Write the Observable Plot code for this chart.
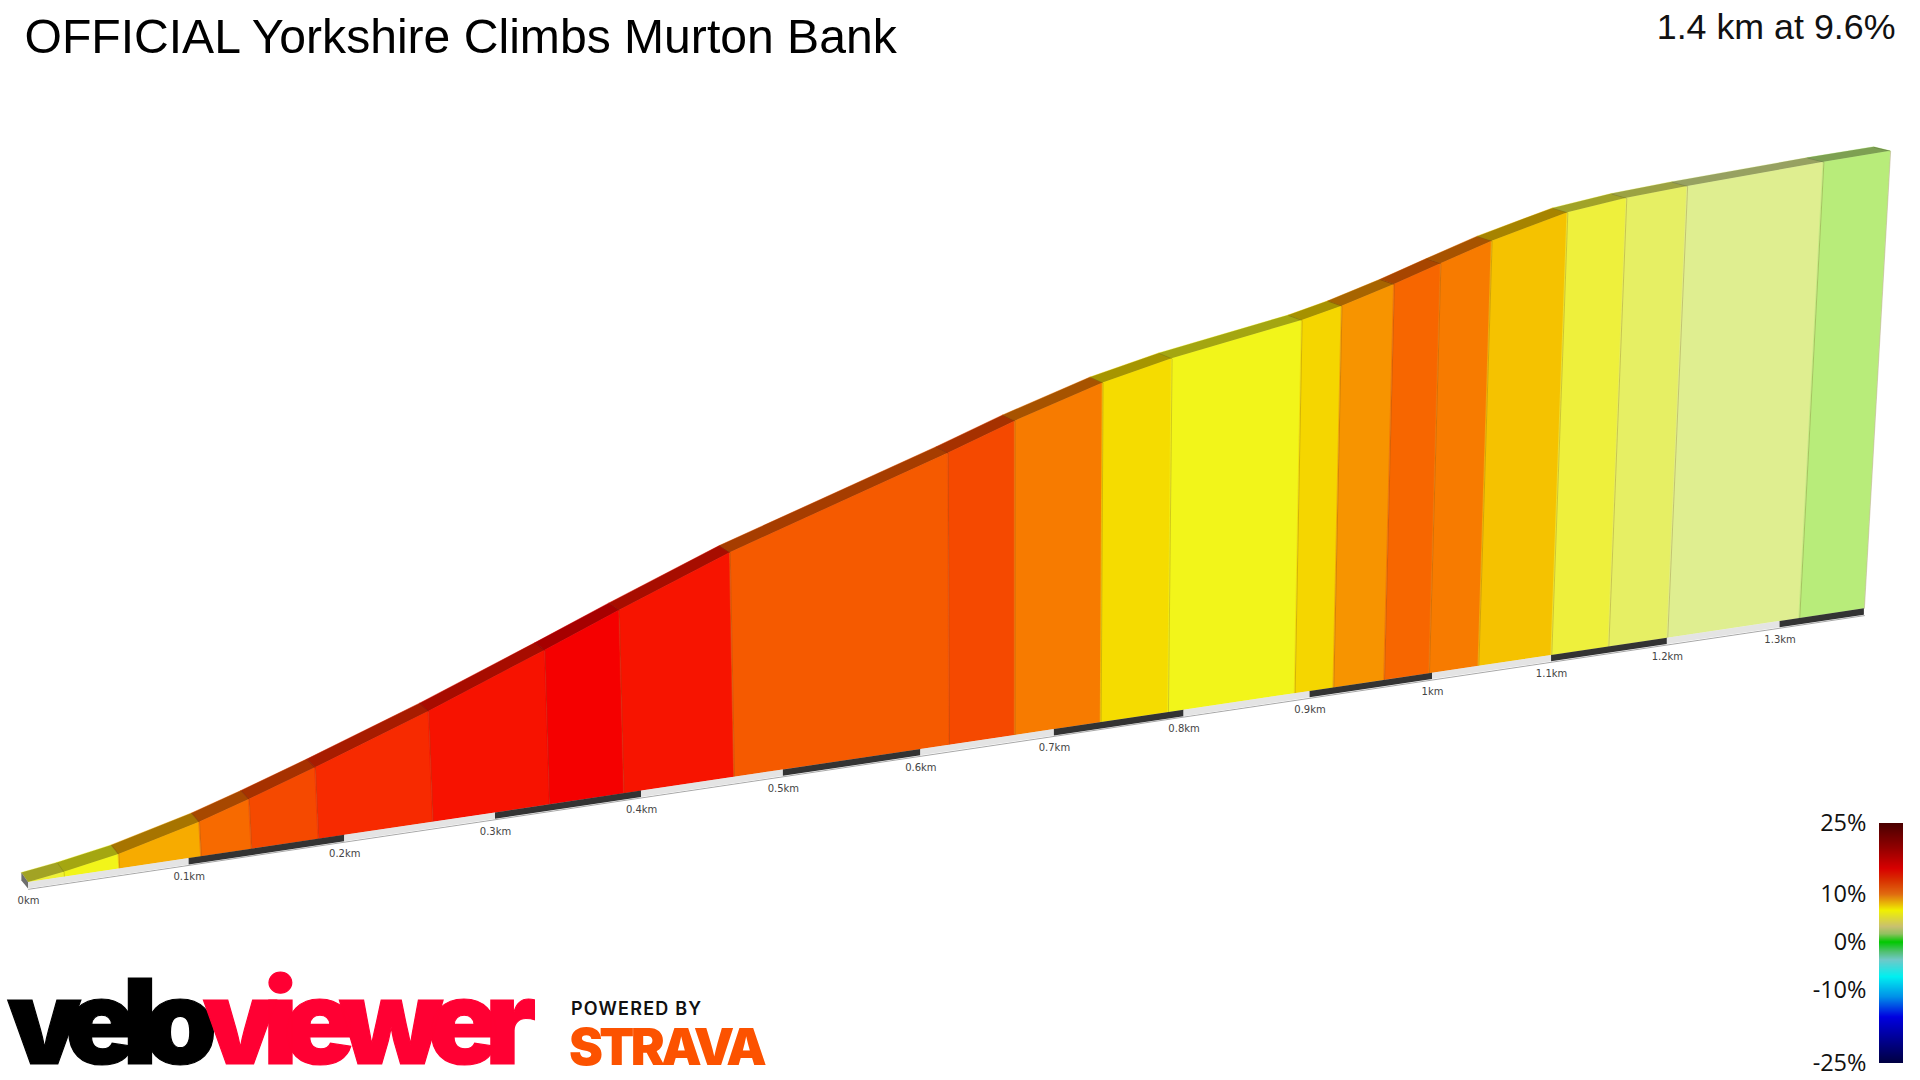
<!DOCTYPE html>
<html>
<head>
<meta charset="utf-8">
<script src="https://cdn.jsdelivr.net/npm/d3@7"></script>
<script src="https://cdn.jsdelivr.net/npm/@observablehq/plot@0.6"></script>
<style>
html,body{margin:0;padding:0;background:#fff;overflow:hidden}
#stage{position:relative;width:1920px;height:1080px;overflow:hidden}
#stage svg{display:block}
.t{position:absolute;white-space:nowrap;line-height:1;margin:0}
#title{left:24.5px;top:7.5px;font:48.1px "Liberation Sans",Arial,sans-serif;color:#000}
#summary{right:24.5px;top:6.5px;font:35.8px "Liberation Sans",Arial,sans-serif;color:#111}
#logo{left:7px;top:976px;height:90px;font:900 118px Inter,sans-serif;letter-spacing:-14.3px;color:#000;-webkit-text-stroke:1.2px currentColor}
#logo span{display:inline-block;height:90px;line-height:90px;overflow:visible;vertical-align:top}
#logo .r{color:#ff0033}
#powered{left:571px;top:998px;font:600 18px Inter,sans-serif;letter-spacing:1.2px;color:#111}
#strava{left:569px;top:1016px;font:900 51px Inter,sans-serif;color:#fc5200;letter-spacing:-3.6px}
#legend{position:absolute;left:1700px;top:780px}
</style>
</head>
<body>
<div id="stage">
<div id="chart"></div>
<div id="legend"></div>
<div class="t" id="title">OFFICIAL Yorkshire Climbs Murton Bank</div>
<div class="t" id="summary">1.4 km at 9.6%</div>
<div class="t" id="logo"><span>velo</span><span class="r">viewer</span></div>
<div class="t" id="powered">POWERED BY</div>
<div class="t" id="strava">STRAVA</div>
</div>
<script>
// ---- data ----
const boundaryKm   = [0,0.0221,0.0564,0.1078,0.1399,0.1831,0.2583,0.3368,0.3879,0.4652,0.6212,0.6703,0.7357,0.7878,0.888,0.9192,0.9605,0.9975,1.0386,1.1002,1.1491,1.2003,1.3177,1.3766];
const boundaryElev = [0,1.18,3.48,8.4,12.16,17.59,27.6,38.94,46.6,57.78,76.93,83.38,90.98,95.5,102.2,105,109.5,114,118.9,124.86,127.4,129.2,132.6,134];
const segmentGrade = [5.3,6.7,9.6,11.9,12.7,13.4,14.4,15,14.3,12.3,12.7,11.5,8,6.7,8.1,11,12,11.5,8.4,5,4,3,2.4];
const tickKm    = [0,0.1,0.2,0.3,0.4,0.5,0.6,0.7,0.8,0.9,1,1.1,1.2,1.3];
const tickLabel = ["0km","0.1km","0.2km","0.3km","0.4km","0.5km","0.6km","0.7km","0.8km","0.9km","1km","1.1km","1.2km","1.3km"];
const endKm = 1.3766;
const gradeStops  = [2.4,3,3.5,5,6.7,8,8.4,9.6,11,11.5,12,12.3,12.7,13.4,14.4,15];
const gradeColors = ["#b8ec7a","#dfee90","#e2ee78","#eef03c","#f2f51a","#f5dc00","#f5c200","#f7ab00","#f79400","#f77b00","#f76600","#f55a00","#f54900","#f72a00","#f71200","#f50000"];
const legendTicks  = [25,10,0,-10,-25];
const legendStops  = [-25,-15.5,-11.4,-7.2,-3.7,-2,0,1.7,3.2,6.6,10,12.9,15.4,20,25];
const legendColors = ["#000040","#0000e0","#0090e8","#00f0f0","#70c8c8","#50c070","#00c800","#90c060","#c8c070","#f0f000","#e06a10","#d83000","#d80000","#8f0000","#4a0000"];

// ---- oblique view of the road: km + metres to picture position ----
const baseX = d => 28 + 1632.7 * d / (1 + 0.1629 * d);
const baseY = d => 882 - 0.14907 * (baseX(d) - 28);
const rise  = (d, e) => e * 4.18 / (1 + 0.1629 * d);
const topX  = (d, e) => baseX(d) + rise(d, e) * (baseX(d) - 1015) * 6.76e-5;
const topY  = (d, e) => baseY(d) - rise(d, e);
const depthX = d => -6.6 - 9.9 * (baseX(d) - 28) / 1836;
const depthY = d => -4 - 5.5 * Math.pow(Math.max(0, 1 - (baseX(d) - 28) / 1836), 1.45);
const stripH = 6.4;

const corners = boundaryKm.map((km, i) => {
  const e = boundaryElev[i];
  return {km, e, bx: baseX(km), by: baseY(km), tx: topX(km, e), ty: topY(km, e),
          rx: topX(km, e) + depthX(km), ry: topY(km, e) + depthY(km)};
});
const faces = segmentGrade.flatMap((grade, i) => [
  {seg: i, grade, ...corners[i]}, {seg: i, grade, ...corners[i + 1]}
]);
const stripEnds = [...tickKm, endKm];
const strip = tickKm.flatMap((km, i) => {
  const shade = i % 2 ? "#333333" : "#e4e4e4";
  return [km, stripEnds[i + 1]].map(d => ({seg: i, shade, x: baseX(d), y1: baseY(d), y2: baseY(d) + stripH}));
});
const startCap = [
  {x: corners[0].rx, y1: corners[0].ry, y2: corners[0].ry + 8},
  {x: corners[0].tx, y1: corners[0].ty, y2: corners[0].ty + stripH}
];
const labels = tickKm.map((km, i) => ({x: baseX(km), y: baseY(km) + 18.7, text: tickLabel[i]}));

document.getElementById("chart").append(Plot.plot({
  width: 1920, height: 1080, margin: 0,
  style: {background: "transparent"},
  x: {domain: [0, 1920], range: [0, 1920], axis: null},
  y: {domain: [0, 1080], range: [0, 1080], axis: null},
  color: {type: "linear", domain: gradeStops, range: gradeColors, clamp: true},
  marks: [
    // side wall
    Plot.area(faces, {x1: "bx", y1: "by", x2: "tx", y2: "ty", z: "seg", fill: "grade", stroke: "grade", strokeWidth: 0.6}),
    // top of the wall
    Plot.area(faces, {x1: "tx", y1: "ty", x2: "rx", y2: "ry", z: "seg", fill: "grade", stroke: "grade", strokeWidth: 0.5}),
    Plot.area(corners, {x1: "tx", y1: "ty", x2: "rx", y2: "ry", fill: "#000", fillOpacity: 0.32}),
    // seams between gradient sections
    Plot.link(corners.slice(1), {x1: "bx", y1: "by", x2: "tx", y2: "ty", stroke: "#7a5a20", strokeOpacity: 0.28, strokeWidth: 1}),
    Plot.link(corners.slice(1), {x1: "tx", y1: "ty", x2: "rx", y2: "ry", stroke: "#000", strokeOpacity: 0.14, strokeWidth: 1}),
    // near end
    Plot.area(startCap, {x1: "x", y1: "y1", x2: "x", y2: "y2", fill: "#6e6e6e"}),
    // distance strip
    Plot.line([0, endKm], {x: baseX, y: d => baseY(d) + stripH + 0.4, stroke: "#a8a8a8", strokeWidth: 1}),
    Plot.area(strip, {x1: "x", y1: "y1", x2: "x", y2: "y2", z: "seg", fill: "shade"}),
    Plot.text(labels, {x: "x", y: "y", text: "text", fontSize: 10, fontFamily: "DejaVu Sans", fill: "#444", textAnchor: "middle"})
  ]
}));

// ---- gradient key ----
const keyPos = d3.scaleLinear().domain([-25, -10, 0, 10, 25]).range([283.3, 210, 162, 114, 43.3]);
const keyPixels = d3.range(43, 283);
const legendRows = keyPixels.map(py => ({g: keyPos.invert(py + 0.5), x1: 179, x2: 203, y1: py, y2: py + 1}));
const legendText = legendTicks.map(t => ({x: 166, y: keyPos(t) - 0.5, text: t + "%"}));
document.getElementById("legend").append(Plot.plot({
  width: 220, height: 300, margin: 0,
  style: {background: "transparent"},
  x: {domain: [0, 220], range: [0, 220], axis: null},
  y: {domain: [0, 300], range: [0, 300], axis: null},
  color: {type: "linear", domain: legendStops, range: legendColors, clamp: true},
  marks: [
    Plot.rect(legendRows, {x1: "x1", x2: "x2", y1: "y1", y2: "y2", fill: "g", shapeRendering: "crispEdges"}),
    Plot.text(legendText, {x: "x", y: "y", text: "text", textAnchor: "end", fontSize: 23.5, fontFamily: "Open Sans", fill: "#111"})
  ]
}));
</script>
</body>
</html>
